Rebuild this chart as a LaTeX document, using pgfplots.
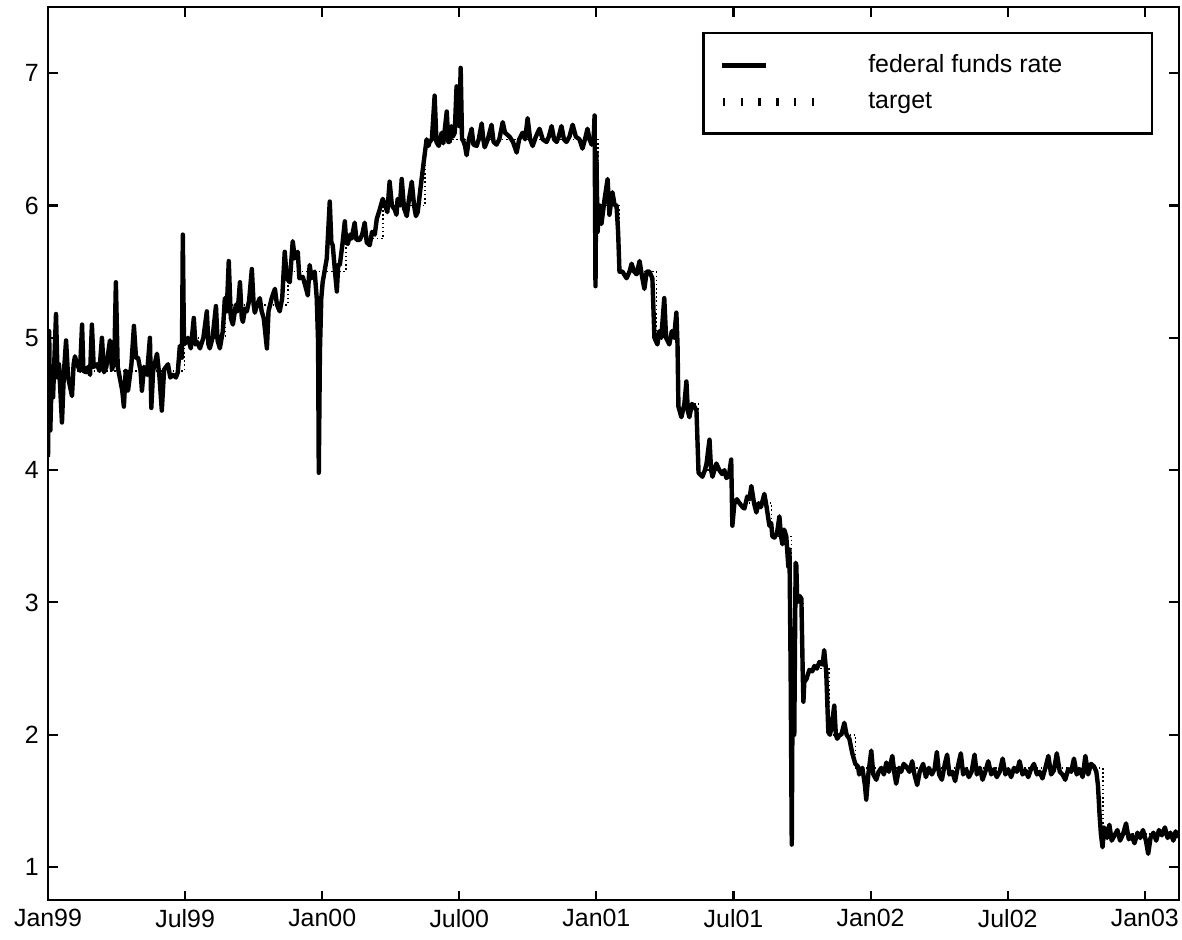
\documentclass[border=0pt]{standalone}
\usepackage{fontspec}
\setmainfont{Liberation Sans}
\usepackage{pgfplots}
\usepackage{pgfplotstable}
\pgfplotsset{compat=1.18}

% x = months since 1 Jan 1999
\pgfplotstableread{
m r
0.00 4.10
0.05 5.05
0.10 4.30
0.17 4.75
0.22 4.55
0.35 5.18
0.42 4.70
0.48 4.80
0.61 4.36
0.70 4.75
0.79 4.98
0.88 4.70
1.05 4.56
1.12 4.80
1.18 4.86
1.27 4.80
1.40 4.75
1.49 5.10
1.55 4.75
1.66 4.74
1.75 4.78
1.84 4.72
1.92 5.10
2.00 4.78
2.14 4.80
2.25 4.75
2.36 5.00
2.45 4.74
2.55 4.78
2.71 4.98
2.80 4.76
2.90 4.82
2.97 5.42
3.05 4.78
3.15 4.69
3.25 4.60
3.32 4.48
3.40 4.75
3.50 4.60
3.65 4.80
3.76 5.09
3.85 4.85
3.94 4.85
4.05 4.75
4.11 4.60
4.20 4.78
4.33 4.72
4.46 5.00
4.52 4.47
4.60 4.75
4.77 4.88
4.88 4.70
4.98 4.45
5.08 4.76
5.25 4.80
5.35 4.70
5.47 4.72
5.60 4.70
5.68 4.74
5.77 4.94
5.86 4.85
5.90 5.78
5.95 4.95
6.05 4.97
6.12 5.00
6.25 4.92
6.38 5.15
6.45 4.95
6.52 4.97
6.65 4.92
6.80 5.00
6.95 5.20
7.02 4.95
7.08 4.92
7.20 5.00
7.35 5.24
7.42 4.98
7.52 4.92
7.65 5.05
7.74 5.30
7.82 5.20
7.91 5.58
8.00 5.15
8.09 5.10
8.22 5.25
8.30 5.20
8.40 5.42
8.48 5.15
8.53 5.12
8.62 5.22
8.70 5.20
8.80 5.28
8.92 5.52
9.00 5.25
9.05 5.19
9.15 5.25
9.27 5.30
9.35 5.20
9.44 5.15
9.58 4.92
9.65 5.20
9.79 5.30
9.93 5.37
10.02 5.25
10.14 5.20
10.25 5.30
10.36 5.65
10.45 5.45
10.58 5.42
10.71 5.73
10.80 5.60
10.93 5.65
11.00 5.45
11.15 5.46
11.25 5.40
11.37 5.32
11.45 5.55
11.54 5.45
11.67 5.50
11.76 5.30
11.82 4.97
11.85 3.98
11.90 4.90
11.96 5.30
12.02 5.42
12.10 5.50
12.20 5.60
12.33 6.03
12.40 5.72
12.46 5.70
12.56 5.50
12.64 5.35
12.70 5.55
12.77 5.55
12.88 5.70
12.99 5.88
13.05 5.72
13.12 5.71
13.22 5.78
13.29 5.75
13.42 5.87
13.50 5.74
13.64 5.74
13.75 5.78
13.86 5.87
13.95 5.72
14.08 5.70
14.18 5.80
14.30 5.78
14.39 5.90
14.50 5.96
14.65 6.05
14.75 6.00
14.85 5.95
14.95 6.18
15.05 6.00
15.17 5.97
15.25 5.93
15.30 6.05
15.40 6.00
15.48 6.20
15.58 5.98
15.70 5.92
15.80 6.05
15.92 6.18
16.02 6.00
16.10 5.92
16.18 5.95
16.28 6.10
16.35 6.20
16.48 6.38
16.57 6.50
16.65 6.45
16.70 6.48
16.80 6.50
16.92 6.83
17.00 6.48
17.10 6.45
17.23 6.55
17.30 6.47
17.45 6.71
17.52 6.48
17.58 6.48
17.65 6.60
17.71 6.52
17.80 6.55
17.88 6.90
18.00 6.60
18.06 7.04
18.12 6.50
18.15 6.50
18.25 6.45
18.32 6.38
18.42 6.50
18.54 6.58
18.62 6.46
18.76 6.45
18.85 6.50
18.98 6.62
19.05 6.50
19.11 6.44
19.25 6.50
19.41 6.61
19.50 6.48
19.63 6.46
19.75 6.50
19.90 6.63
20.00 6.55
20.20 6.52
20.35 6.48
20.51 6.40
20.62 6.50
20.77 6.55
20.88 6.50
20.99 6.66
21.10 6.50
21.21 6.45
21.35 6.52
21.51 6.58
21.65 6.50
21.82 6.48
21.92 6.52
22.04 6.60
22.15 6.50
22.26 6.48
22.35 6.52
22.47 6.60
22.58 6.50
22.69 6.48
22.82 6.52
22.96 6.61
23.10 6.52
23.26 6.50
23.39 6.43
23.50 6.50
23.61 6.58
23.70 6.50
23.79 6.46
23.88 6.50
23.92 6.68
23.96 5.39
24.00 6.40
24.05 5.80
24.14 6.00
24.22 5.86
24.36 6.05
24.49 6.20
24.57 5.93
24.70 6.10
24.80 6.00
24.88 6.00
24.95 5.80
25.01 5.50
25.14 5.50
25.32 5.45
25.45 5.50
25.54 5.56
25.65 5.50
25.76 5.48
25.89 5.58
25.98 5.48
26.10 5.37
26.20 5.50
26.32 5.50
26.45 5.45
26.54 5.00
26.67 4.95
26.75 5.05
26.84 5.00
26.97 5.30
27.05 5.00
27.19 4.95
27.30 5.05
27.40 5.00
27.50 5.19
27.55 4.95
27.59 4.48
27.72 4.40
27.85 4.50
27.94 4.67
28.00 4.45
28.07 4.40
28.18 4.50
28.29 4.48
28.38 4.45
28.47 3.98
28.64 3.95
28.75 4.00
28.82 4.05
28.95 4.23
29.02 4.00
29.08 3.95
29.25 4.05
29.38 4.00
29.50 3.97
29.60 4.00
29.69 3.94
29.80 3.96
29.90 4.08
29.95 3.58
30.04 3.75
30.15 3.78
30.26 3.75
30.40 3.72
30.48 3.71
30.60 3.80
30.70 3.78
30.78 3.88
30.90 3.75
31.00 3.68
31.10 3.75
31.20 3.72
31.35 3.82
31.45 3.72
31.57 3.58
31.65 3.60
31.70 3.50
31.79 3.49
31.90 3.52
32.01 3.65
32.08 3.50
32.14 3.44
32.22 3.55
32.31 3.50
32.40 3.27
32.45 3.40
32.50 2.50
32.55 1.17
32.60 2.80
32.66 2.00
32.72 3.30
32.75 3.28
32.79 3.00
32.88 3.05
32.97 3.03
33.03 2.47
33.06 2.25
33.10 2.40
33.19 2.42
33.32 2.49
33.45 2.48
33.54 2.52
33.65 2.50
33.76 2.55
33.90 2.53
33.97 2.64
34.06 2.47
34.15 2.02
34.22 2.00
34.28 2.05
34.41 2.22
34.48 2.00
34.54 1.97
34.65 2.00
34.72 2.00
34.85 2.09
34.95 2.00
35.07 1.97
35.20 1.86
35.33 1.78
35.45 1.76
35.50 1.70
35.64 1.75
35.75 1.62
35.81 1.51
35.90 1.70
36.03 1.88
36.12 1.70
36.25 1.66
36.35 1.72
36.47 1.75
36.58 1.70
36.69 1.79
36.80 1.72
36.95 1.84
37.05 1.70
37.12 1.63
37.25 1.75
37.34 1.72
37.45 1.78
37.56 1.76
37.70 1.72
37.82 1.80
37.92 1.70
38.04 1.62
38.15 1.72
38.30 1.78
38.42 1.68
38.55 1.75
38.68 1.70
38.80 1.74
38.90 1.87
39.00 1.70
39.12 1.66
39.25 1.78
39.35 1.85
39.45 1.70
39.58 1.72
39.70 1.65
39.82 1.76
39.95 1.86
40.05 1.70
40.18 1.74
40.30 1.68
40.42 1.72
40.55 1.85
40.65 1.70
40.78 1.75
40.90 1.66
41.02 1.72
41.15 1.80
41.28 1.70
41.40 1.74
41.52 1.68
41.65 1.72
41.78 1.82
41.90 1.70
42.02 1.74
42.15 1.68
42.28 1.75
42.40 1.72
42.52 1.80
42.65 1.70
42.78 1.73
42.90 1.68
43.02 1.74
43.15 1.78
43.28 1.70
43.40 1.72
43.52 1.67
43.65 1.75
43.78 1.84
43.90 1.70
44.02 1.73
44.15 1.86
44.28 1.72
44.40 1.70
44.52 1.66
44.65 1.74
44.78 1.72
44.90 1.82
45.02 1.70
45.15 1.74
45.28 1.68
45.40 1.84
45.52 1.70
45.65 1.78
45.78 1.76
45.88 1.72
45.95 1.62
46.02 1.40
46.08 1.25
46.15 1.15
46.22 1.30
46.35 1.22
46.45 1.32
46.55 1.20
46.68 1.24
46.80 1.28
46.92 1.20
47.05 1.25
47.18 1.33
47.30 1.21
47.42 1.24
47.55 1.18
47.68 1.26
47.80 1.22
47.92 1.28
48.05 1.20
48.15 1.10
48.25 1.22
48.38 1.26
48.50 1.20
48.62 1.28
48.75 1.24
48.88 1.30
49.00 1.22
49.12 1.26
49.25 1.20
49.35 1.27
49.45 1.22
}\fundsrate

\pgfplotstableread{
m t
0.00 4.75
5.97 5.00
7.77 5.25
10.50 5.50
13.03 5.75
14.67 6.00
16.50 6.50
24.07 6.00
25.00 5.50
26.63 5.00
27.57 4.50
28.47 4.00
29.87 3.75
31.67 3.50
32.53 3.00
33.03 2.50
34.17 2.00
35.33 1.75
46.17 1.25
49.50 1.25
}\target

\begin{document}
\begin{tikzpicture}
\begin{axis}[
    scale only axis,
    width=15.31cm,
    height=12.09cm,
    xmin=0, xmax=49.5,
    ymin=0.75, ymax=7.5,
    xtick={0,6,12,18,24,30,36,42,48},
    xticklabels={Jan99,Jul99,Jan00,Jul00,Jan01,Jul01,Jan02,Jul02,Jan03},
    ytick={1,2,3,4,5,6,7},
    tick align=inside,
    major tick length=0.13cm,
    axis line style={line width=0.8pt},
    every tick/.style={black, line width=0.8pt},
    tick label style={font=\fontsize{9.6}{11}\selectfont},
    /pgf/number format/assume math mode=true,
    legend cell align=left,
    legend style={at={(0.977,0.972)}, anchor=north east,
        draw=black, line width=0.8pt,
        font=\fontsize{9.6}{11}\selectfont,
        inner xsep=0.22cm, inner ysep=0.22cm, row sep=2pt},
]
\addplot[black, line width=1.7pt, line join=round] table[x=m, y=r] {\fundsrate};
\addlegendentry{\makebox[3.55cm][l]{federal funds rate}}
\addplot[black, const plot, line width=0.6pt, densely dotted,
    legend image code/.code={
        \foreach \i in {0,...,5}{\draw[black, solid, line width=0.9pt] (\i*0.24cm+0.03cm,-0.06cm) -- (\i*0.24cm+0.03cm,0.06cm);}
        \path (1.9cm,0cm);
    }] table[x=m, y=t] {\target};
\addlegendentry{\makebox[3.55cm][l]{target}}
\end{axis}
\pgfresetboundingbox
\path[use as bounding box] ([shift={(-0.65cm,-0.53cm)}]current axis.south west) rectangle ([shift={(0.04cm,0.095cm)}]current axis.north east);
\end{tikzpicture}
\end{document}
